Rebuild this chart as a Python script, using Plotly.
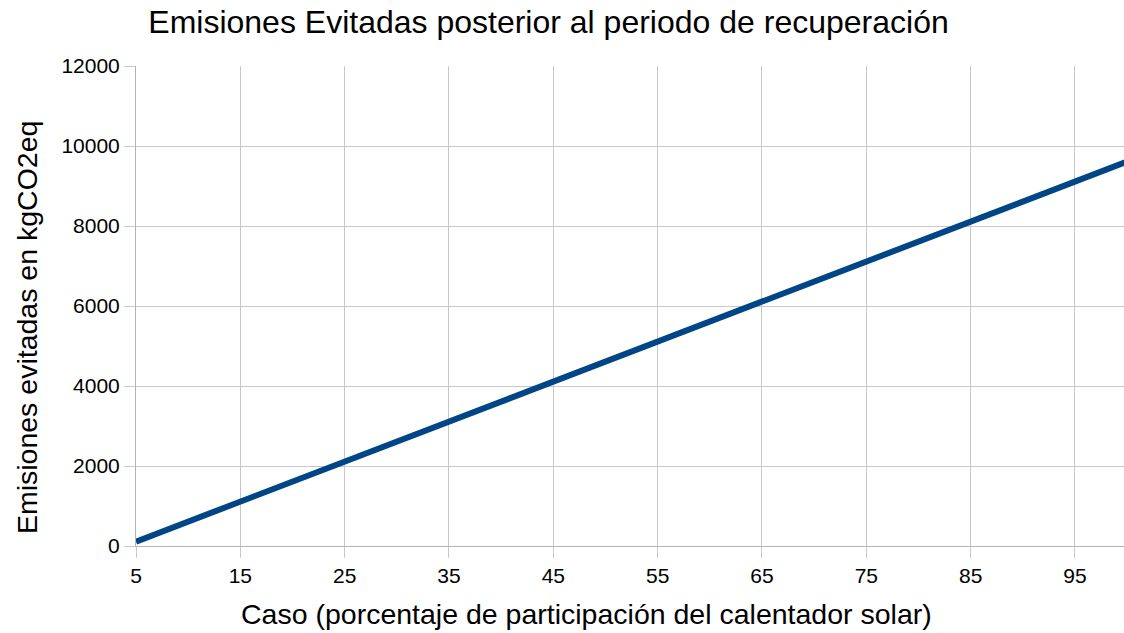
import plotly.graph_objects as go

casos = [5, 10, 15, 20, 25, 30, 35, 40, 45, 50, 55, 60, 65, 70, 75, 80, 85, 90, 95, 100]
emisiones = [110, 610, 1110, 1610, 2110, 2610, 3110, 3610, 4110, 4610,
             5110, 5610, 6110, 6610, 7110, 7610, 8110, 8610, 9110, 9610]

titulo = "Emisiones Evitadas posterior al periodo de recuperación"
titulo_x = "Caso (porcentaje de participación del calentador solar)"
titulo_y = "Emisiones evitadas en kgCO2eq"

fig = go.Figure(go.Scatter(x=casos, y=emisiones, mode="lines",
                           line=dict(color="#004586", width=6),
                           showlegend=False))

font = "Liberation Sans, Arial, sans-serif"
fig.update_layout(
    width=1124, height=633,
    margin=dict(l=136, r=0, t=66, b=87),
    paper_bgcolor="white", plot_bgcolor="white",
    font=dict(family=font, color="black", size=21),
    title=dict(text=titulo, x=0.488, xanchor="center", y=0.965, yanchor="middle",
               font=dict(size=32, family=font, color="black")),
    annotations=[
        dict(text=titulo_x, xref="paper", yref="paper", x=0.4555, y=-0.1417,
             xanchor="center", yanchor="middle", showarrow=False,
             font=dict(size=28.5, family=font, color="black")),
        dict(text=titulo_y, xref="paper", yref="paper", x=-0.1103, y=0.454,
             xanchor="center", yanchor="middle", showarrow=False, textangle=-90,
             font=dict(size=28.5, family=font, color="black")),
    ],
)
fig.update_xaxes(range=[5, 99.7], tick0=5, dtick=10, automargin=False,
                 showgrid=True, gridcolor="#c8c8c8", gridwidth=1,
                 showline=True, linecolor="#b3b3b3", linewidth=1,
                 ticks="outside", ticklen=11, tickcolor="#c8c8c8",
                 tickfont=dict(size=21, family=font), zeroline=False)
fig.update_yaxes(range=[0, 12000], dtick=2000, tickformat="d", automargin=False,
                 showgrid=True, gridcolor="#c8c8c8", gridwidth=1,
                 showline=True, linecolor="#b3b3b3", linewidth=1,
                 ticks="outside", ticklen=11, tickcolor="#c8c8c8",
                 tickfont=dict(size=21, family=font), zeroline=False)

fig.write_html("out.html", config={"displayModeBar": False},
               post_script="document.body.style.margin='0';document.body.style.overflow='hidden';")
